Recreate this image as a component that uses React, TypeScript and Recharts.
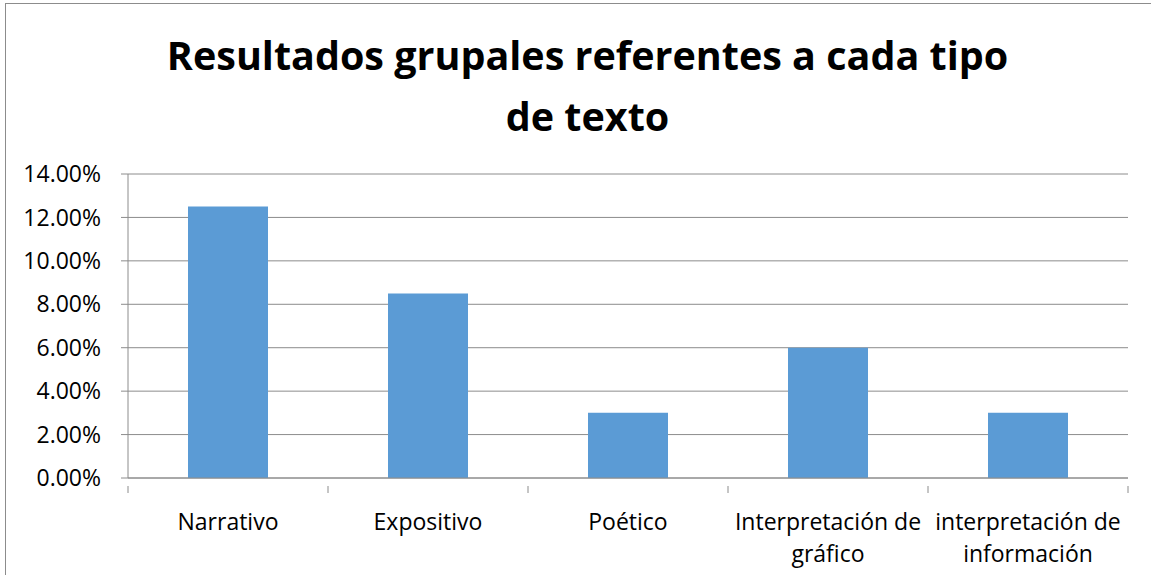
import React from 'react'
import { BarChart, Bar, XAxis, YAxis, CartesianGrid } from 'recharts'

const categories = ['Narrativo', 'Expositivo', 'Poético', 'Interpretación de gráfico', 'interpretación de información']
const values = [0.125, 0.085, 0.03, 0.06, 0.03]
const yTicks = [0, 0.02, 0.04, 0.06, 0.08, 0.1, 0.12, 0.14]

const data = categories.map((name, i) => ({ name, value: values[i] }))

const FONT = '"Open Sans", "Noto Sans", sans-serif'
const W = 1151
const H = 575
const LEFT = 128
const RIGHT = 23
const BAND = (W - LEFT - RIGHT) / categories.length

const wrap = (s: string, max = 18) => {
  const words = s.split(' ')
  const lines: string[] = []
  let cur = ''
  words.forEach((w) => {
    const next = cur ? cur + ' ' + w : w
    if (next.length > max && cur) {
      lines.push(cur)
      cur = w
    } else cur = next
  })
  if (cur) lines.push(cur)
  return lines
}

const CatTick = (props: any) => {
  const { x, y, payload, index } = props
  const lines = wrap(payload.value)
  return (
    <g>
      <line x1={x - BAND / 2} x2={x - BAND / 2} y1={y} y2={y + 7} stroke="#8c8c8c" />
      {index === categories.length - 1 && (
        <line x1={x + BAND / 2} x2={x + BAND / 2} y1={y} y2={y + 7} stroke="#8c8c8c" />
      )}
      <text x={x} y={y} textAnchor="middle" fill="#000" fontSize={23} fontFamily={FONT}>
        {lines.map((l, i) => (
          <tspan key={i} x={x} y={y + 44 + i * 32}>
            {l}
          </tspan>
        ))}
      </text>
    </g>
  )
}

const App = () => {
  return (
    <div style={{ position: 'absolute', left: 0, top: 0, width: W, height: H, background: '#fff' }}>
      <div
        style={{
          position: 'absolute',
          left: 5,
          top: 3,
          width: 1160,
          height: 600,
          border: '1px solid #8c8c8c',
        }}
      />
      <div
        style={{
          position: 'absolute',
          left: 0,
          width: 1175,
          top: 25,
          textAlign: 'center',
          fontFamily: FONT,
          fontWeight: 'bold',
          fontSize: 39.5,
          lineHeight: '61px',
          color: '#000',
        }}
      >
        Resultados grupales referentes a cada tipo
        <br />
        de texto
      </div>
      <div style={{ position: 'absolute', left: 0, top: 0 }}>
        <BarChart
          width={W}
          height={H}
          data={data}
          margin={{ top: 174, right: RIGHT, bottom: 0, left: 0 }}
          barCategoryGap="30%"
        >
          <CartesianGrid vertical={false} stroke="#8c8c8c" />
          <XAxis
            dataKey="name"
            height={97}
            stroke="#8c8c8c"
            tickLine={false}
            interval={0}
            tick={<CatTick />}
          />
          <YAxis
            width={LEFT}
            domain={[0, 0.14]}
            ticks={yTicks}
            tickFormatter={(v: number) => (v * 100).toFixed(2) + '%'}
            tick={{ fill: '#000', fontSize: 23, fontFamily: FONT }}
            stroke="#8c8c8c"
            tickSize={7}
            tickMargin={20}
          />
          <Bar dataKey="value" fill="#5B9BD5" isAnimationActive={false} />
        </BarChart>
      </div>
    </div>
  )
}

export default App
